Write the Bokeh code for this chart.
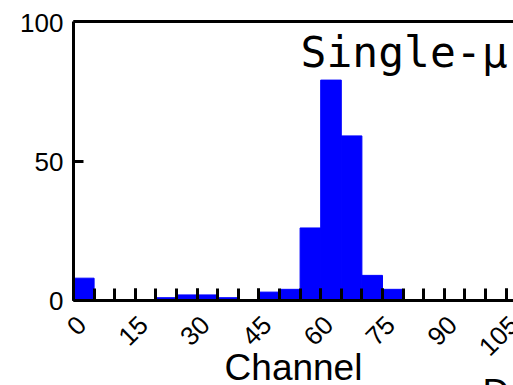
import math
from bokeh.plotting import figure
from bokeh.models import FixedTicker, LinearAxis, Label, LabelSet, Range1d, ColumnDataSource
from bokeh.core.properties import value
from bokeh.embed import file_html
from bokeh.resources import INLINE

# Histogram data (bin width 5 channels)
bin_left = [0, 5, 10, 15, 20, 25, 30, 35, 40, 45, 50, 55, 60, 65, 70, 75, 80, 85, 90, 95, 100]
counts = [8, 0, 0, 0, 1, 2, 2, 1, 0, 3, 4, 26, 79, 59, 9, 4, 0, 0, 0, 0, 0]
bin_width = 5
x_major_ticks = [0, 15, 30, 45, 60, 75, 90, 105]
x_tick_labels = ["0", "15", "30", "45", "60", "75", "90", "105"]
x_minor_ticks = list(range(0, 110, 5))
y_ticks = [0, 50, 100]
y_tick_labels = ["0", "50", "100"]
title_text = "Single-μ"
x_label = "Channel"
corner_text = "D"

X_END = 106.8
Y_TOP = 100
bin_right = [b + bin_width for b in bin_left]
src = ColumnDataSource(dict(left=bin_left, right=bin_right, top=counts))

# the frame fills the page; the axes are pinned at x = 0, y = 0 and y = 100 so
# that all texts beside them are inside the frame
p = figure(width=513, height=385, output_backend="svg", toolbar_location=None,
           x_range=Range1d(-17.72, X_END), y_range=Range1d(-30.47, 107.53),
           min_border_left=0, min_border_right=0, min_border_top=0, min_border_bottom=0)
p.outline_line_color = None
p.grid.visible = False
p.background_fill_color = "white"
p.border_fill_color = "white"

p.quad(left="left", right="right", bottom=0, top="top", source=src,
       fill_color="#0000ff", line_color="#0000ff", line_width=1)

FONT = "Liberation Sans"

xa = p.xaxis[0]
xa.fixed_location = 0
xa.bounds = (0, X_END)
xa.ticker = FixedTicker(ticks=x_major_ticks, minor_ticks=x_minor_ticks)
xa.axis_line_width = 3
xa.major_tick_in = 12
xa.major_tick_out = 0
xa.minor_tick_in = 12
xa.minor_tick_out = 0
xa.major_tick_line_width = 3
xa.minor_tick_line_width = 3
xa.major_label_text_color = None   # labels drawn by the LabelSet below
xa.major_label_text_font_size = "0px"
xa.major_label_standoff = 0

ya = p.yaxis[0]
ya.fixed_location = 0
ya.bounds = (0, Y_TOP)
ya.ticker = FixedTicker(ticks=y_ticks)
ya.axis_line_width = 3
ya.major_tick_in = 10
ya.major_tick_out = 0
ya.minor_tick_line_color = None
ya.major_tick_line_width = 3
ya.major_label_text_color = None   # labels drawn by the LabelSet below
ya.major_label_text_font_size = "0px"
ya.major_label_standoff = 0

top_axis = LinearAxis(ticker=FixedTicker(ticks=[]), axis_line_width=3, bounds=(0, X_END),
                      fixed_location=Y_TOP,
                      major_tick_line_color=None, minor_tick_line_color=None,
                      major_label_text_font_size="0px", major_label_standoff=0)
p.add_layout(top_axis, "above")

# rotated x tick labels
xlab_src = ColumnDataSource(dict(x=x_major_ticks, y=[0] * len(x_major_ticks), text=x_tick_labels))
p.add_layout(LabelSet(x="x", y="y", text="text", source=xlab_src, angle=math.pi / 4,
                      x_offset=8, y_offset=-20, text_align="right", text_baseline="middle",
                      text_font=value(FONT), text_font_size=value("26px"),
                      text_color=value("black")))

# y tick labels
ylab_src = ColumnDataSource(dict(x=[0] * len(y_ticks), y=y_ticks, text=y_tick_labels))
p.add_layout(LabelSet(x="x", y="y", text="text", source=ylab_src,
                      x_offset=-10, y_offset=-1, text_align="right", text_baseline="middle",
                      text_font=value(FONT), text_font_size=value("26px"),
                      text_color=value("black")))

p.add_layout(Label(x=53.4, y=-24.0, text=x_label, text_font=FONT, text_align="center",
                   text_font_size="37px", text_color="black", text_baseline="alphabetic"))

p.add_layout(Label(x=55.1, y=89.0, text=title_text, text_font="DejaVu Sans Mono",
                   text_font_size="43px", text_color="black", text_baseline="alphabetic"))
p.add_layout(Label(x=99.3, y=-32.8, text=corner_text, text_font=FONT,
                   text_font_size="37px", text_color="black", text_baseline="alphabetic"))

open("out.html", "w").write(file_html(p, INLINE))
